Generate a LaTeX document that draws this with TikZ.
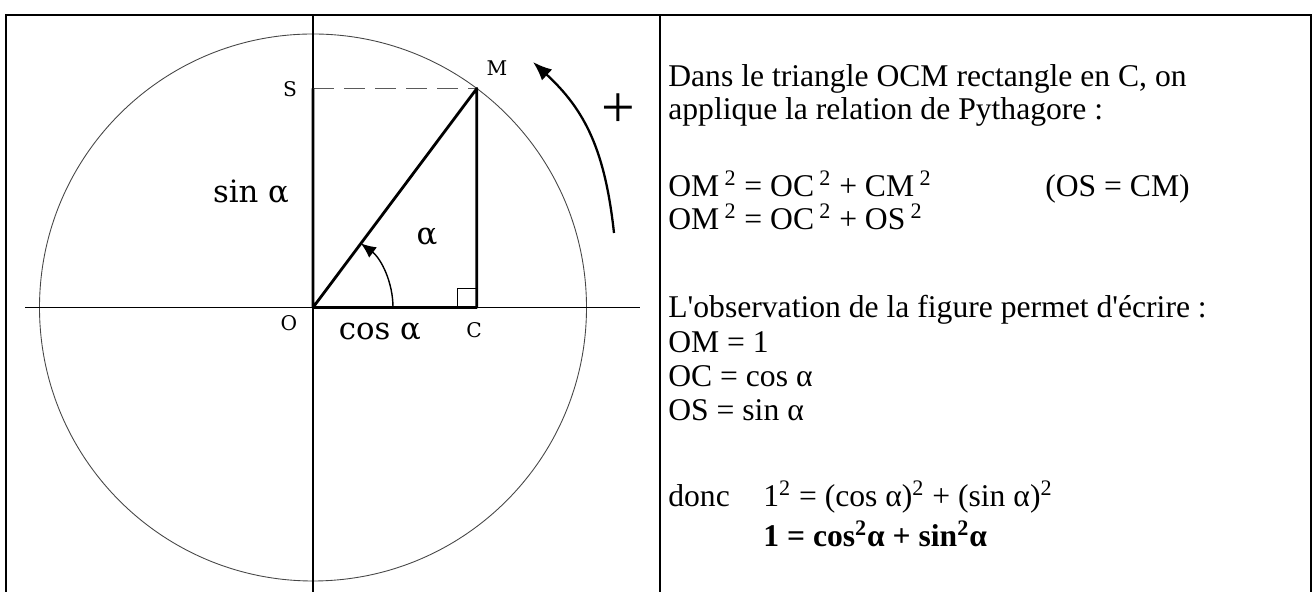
\documentclass[tikz,border=0pt]{standalone}
\usepackage{fontspec}
\setmainfont{Liberation Serif}[Ligatures=TeXOff]
\newfontfamily\figfont{DejaVu Serif}
\usepackage{tikz}
\usetikzlibrary{arrows.meta}
\definecolor{gris}{RGB}{70,70,70}
\definecolor{tirets}{RGB}{90,90,90}
\newcommand{\angleA}{53.2}
\newcommand{\rayon}{5.47}

\begin{document}
\begin{tikzpicture}[font=\fontsize{18}{21}\selectfont,
  trait/.style={line width=1.6pt},
  petit/.style={font=\figfont\fontsize{11.5}{13}\selectfont, inner sep=0pt},
  grand/.style={font=\figfont\fontsize{17.5}{20}\selectfont, inner sep=0pt},
  ligne/.style={anchor=base west, inner sep=0pt}]
  \useasboundingbox (0,0) rectangle (26.32,11.84);
  % Le cadre (ouvert en bas) et la séparation des deux colonnes.
  \draw[line width=1.1pt] (0.12,0) -- (0.12,11.54) -- (26.22,11.54) -- (26.22,0);
  \draw[line width=1.1pt] (13.2,0) -- (13.2,11.54);
  % Le cercle trigonométrique et les axes.
  \coordinate (O) at (6.26,5.69);
  \draw[gris, line width=0.5pt] (O) circle (\rayon);
  \draw[line width=0.6pt] (0.5,5.69) -- (12.8,5.69);
  \draw[line width=0.6pt] (6.26,0) -- (6.26,11.54);
  % Le point M et ses projections C et S.
  \path (O) ++(\angleA:\rayon) coordinate (M);
  \coordinate (C) at (O -| M);
  \coordinate (S) at (O |- M);
  \draw[tirets, line width=0.9pt, dash pattern=on 0.42cm off 0.2cm] (S) -- (M);
  \draw[trait, line join=round] (S) -- (O) -- (C) -- (M) -- (O);
  \draw[line width=0.5pt] (C) ++(-0.38,0) -- ++(0,0.38) -- ++(0.38,0);
  % L'angle alpha et le sens positif.
  \draw[line width=0.8pt, -{Latex[length=0.3cm, width=0.26cm]}]
    (O) ++(1.6,0) arc[start angle=0, end angle=\angleA, radius=1.6];
  \draw[line width=1.3pt, -{Latex[length=0.38cm, width=0.3cm]}]
    (12.28,7.18) .. controls (12.10,8.84) and (11.70,9.64) .. (10.66,10.60);
  \node (plus) at (12.36,9.62) {\fontsize{34}{34}\selectfont +};
  % Les noms des points et des longueurs.
  \node[petit] (nomS) at (5.80,10.06) {S};
  \node[petit] (nomM) at (9.94,10.48) {M};
  \node[petit] (nomO) at (5.78,5.38) {O};
  \node[petit] (nomC) at (9.48,5.24) {C};
  \node[grand] (sinA) at (5.02,8.00) {sin α};
  \node[grand] (cosA) at (7.60,5.20) {cos α};
  \node[grand] (alpha) at (8.54,7.10) {α};
  % Le texte de la colonne de droite.
  \node[ligne] (t1) at (13.36,10.10) {Dans le triangle OCM rectangle en C, on};
  \node[ligne] (t2) at (13.36,9.44) {applique la relation de Pythagore :};
  \node[ligne] (t3) at (13.36,7.90)
    {OM\,\textsuperscript{2} = OC\,\textsuperscript{2} + CM\,\textsuperscript{2}};
  \node[ligne] (t3b) at (20.90,7.90) {(OS = CM)};
  \node[ligne] (t4) at (13.36,7.24)
    {OM\,\textsuperscript{2} = OC\,\textsuperscript{2} + OS\,\textsuperscript{2}};
  \node[ligne] (t5) at (13.36,5.48) {L'observation de la figure permet d'écrire :};
  \node[ligne] (t6) at (13.36,4.78) {OM = 1};
  \node[ligne] (t7) at (13.36,4.10) {OC = cos α};
  \node[ligne] (t8) at (13.36,3.42) {OS = sin α};
  \node[ligne] (donc) at (13.36,1.70) {donc};
  \node[ligne] (t9) at (15.26,1.70)
    {1\textsuperscript{2} = (cos α)\textsuperscript{2} + (sin α)\textsuperscript{2}};
  \node[ligne] (t10) at (15.26,0.90)
    {\textbf{1 = cos\textsuperscript{2}α + sin\textsuperscript{2}α}};
\end{tikzpicture}
\end{document}
